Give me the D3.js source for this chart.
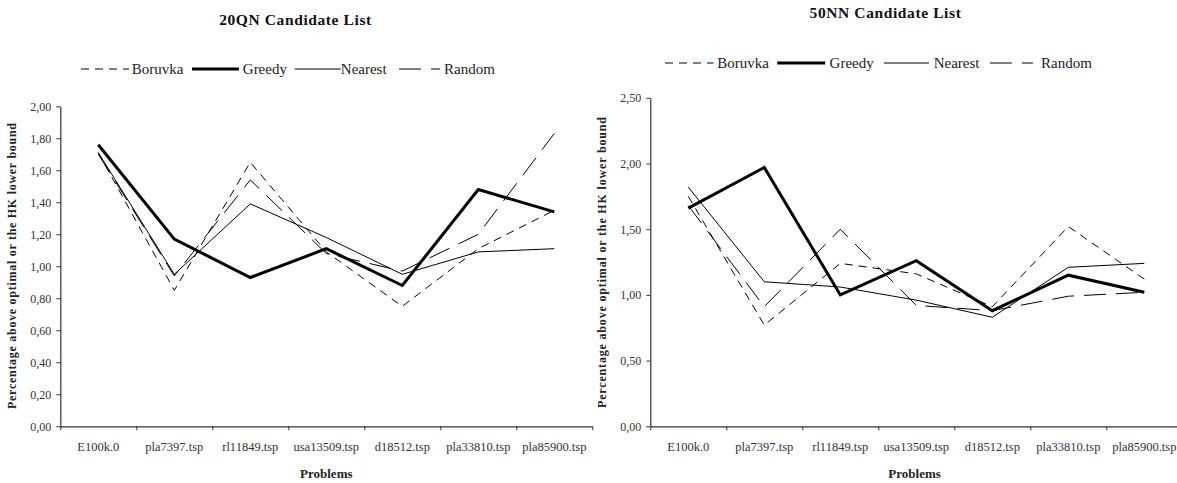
<!DOCTYPE html>
<html>
<head>
<meta charset="utf-8">
<script src="https://cdn.jsdelivr.net/npm/d3@7"></script>
<style>
  html, body { margin: 0; padding: 0; background: #fff; }
  svg { display: block; }
</style>
</head>
<body>
<svg id="chart" width="1177" height="483"></svg>
<script>
const categories = ["E100k.0", "pla7397.tsp", "rl11849.tsp", "usa13509.tsp", "d18512.tsp", "pla33810.tsp", "pla85900.tsp"];
const seriesNames = ["Boruvka", "Greedy", "Nearest", "Random"];

const qn20Boruvka = [1.71, 0.85, 1.65, 1.09, 0.75, 1.11, 1.35];
const qn20Greedy  = [1.76, 1.17, 0.93, 1.11, 0.88, 1.48, 1.34];
const qn20Nearest = [1.71, 0.95, 1.39, 1.18, 0.95, 1.09, 1.11];
const qn20Random  = [1.70, 0.94, 1.54, 1.08, 0.97, 1.20, 1.83];

const nn50Boruvka = [1.75, 0.77, 1.24, 1.16, 0.91, 1.52, 1.12];
const nn50Greedy  = [1.66, 1.97, 1.00, 1.26, 0.88, 1.15, 1.02];
const nn50Nearest = [1.82, 1.10, 1.06, 0.96, 0.83, 1.21, 1.24];
const nn50Random  = [1.68, 0.91, 1.50, 0.92, 0.88, 0.99, 1.02];

const yTicks20 = [0, 0.2, 0.4, 0.6, 0.8, 1.0, 1.2, 1.4, 1.6, 1.8, 2.0];
const yTicks50 = [0, 0.5, 1.0, 1.5, 2.0, 2.5];

const titles = ["20QN Candidate List", "50NN Candidate List"];
const xTitle = "Problems";
const yTitle = "Percentage above optimal or the HK lower bound";

const styles = {
  Boruvka: { width: 1, dash: "8,6" },
  Greedy:  { width: 3, dash: null },
  Nearest: { width: 1, dash: null },
  Random:  { width: 1, dash: "22,10" }
};

const serif = "'Liberation Serif', 'Times New Roman', serif";
const svg = d3.select("#chart");

function drawChart(cfg) {
  const g = svg.append("g").attr("transform", `translate(${cfg.ox},0)`);
  const x0 = 60.3, bandW = 76, yBottom = 426.3;
  const x = d3.scaleBand().domain(categories).range([x0, x0 + bandW * categories.length]).padding(0);
  const xEdge = d3.scaleLinear().domain([0, categories.length]).range([x0, x0 + bandW * categories.length]);
  const y = d3.scaleLinear().domain([0, cfg.yMax]).range([yBottom, cfg.yTop]);

  // title
  g.append("text")
    .attr("x", 295.5).attr("y", cfg.titleY)
    .attr("text-anchor", "middle")
    .attr("font-family", serif).attr("font-weight", "bold")
    .attr("font-size", 15.5).attr("letter-spacing", 0.6)
    .attr("fill", "#111")
    .text(cfg.title);

  // legend
  const lg = g.append("g");
  cfg.legendX.forEach((lx, i) => {
    const name = seriesNames[i];
    const st = styles[name];
    lg.append("line")
      .attr("x1", lx).attr("x2", lx + cfg.legendLen[i])
      .attr("y1", cfg.legendY).attr("y2", cfg.legendY)
      .attr("stroke", "#000").attr("stroke-width", st.width)
      .attr("stroke-dasharray", st.dash);
    lg.append("text")
      .attr("x", cfg.legendTextX[i]).attr("y", cfg.legendY + 4.5)
      .attr("font-family", serif).attr("font-size", 15)
      .attr("fill", "#222")
      .text(name);
  });

  // y axis
  const yAxis = d3.axisLeft(y)
    .tickValues(cfg.yTicks)
    .tickFormat(d => d.toFixed(2).replace(".", ","))
    .tickSize(4).tickSizeOuter(0).tickPadding(5);
  const ya = g.append("g").attr("transform", `translate(${x0},0)`).call(yAxis);
  ya.select(".domain").attr("stroke", "#333").attr("stroke-width", 1.2);
  ya.selectAll(".tick line").attr("stroke", "#333");
  ya.selectAll(".tick text").attr("font-family", serif).attr("font-size", 12).attr("fill", "#333");

  // x axis: boundary ticks
  const xEdgeAxis = d3.axisBottom(xEdge)
    .tickValues(d3.range(0, categories.length + 1))
    .tickFormat("").tickSize(4).tickSizeOuter(0);
  const xe = g.append("g").attr("transform", `translate(0,${yBottom})`).call(xEdgeAxis);
  xe.select(".domain").attr("stroke", "#333").attr("stroke-width", 1.2);
  xe.selectAll(".tick line").attr("stroke", "#333");

  // x axis labels
  const xLabelAxis = d3.axisBottom(x).tickSize(0).tickPadding(16);
  const xl = g.append("g").attr("transform", `translate(0,${yBottom})`).call(xLabelAxis);
  xl.select(".domain").remove();
  xl.selectAll(".tick text").attr("font-family", serif).attr("font-size", 12.5).attr("fill", "#333");

  // axis titles
  g.append("text")
    .attr("x", cfg.xTitleX).attr("y", 477.5)
    .attr("text-anchor", "middle")
    .attr("font-family", serif).attr("font-weight", "bold")
    .attr("font-size", 13).attr("fill", "#222")
    .text(xTitle);

  g.append("text")
    .attr("transform", `translate(${cfg.yTitleX},${cfg.yTitleY}) rotate(-90)`)
    .attr("text-anchor", "middle")
    .attr("font-family", serif).attr("font-weight", "bold")
    .attr("font-size", 12).attr("fill", "#222")
    .attr("textLength", cfg.yTitleLen).attr("lengthAdjust", "spacing")
    .text(yTitle);

  // lines
  const line = d3.line()
    .x((d, i) => x(categories[i]) + x.bandwidth() / 2)
    .y(d => y(d));
  const order = ["Boruvka", "Random", "Nearest", "Greedy"];
  order.forEach(name => {
    const st = styles[name];
    g.append("path")
      .datum(cfg.series[name])
      .attr("fill", "none")
      .attr("stroke", "#000")
      .attr("stroke-width", st.width)
      .attr("stroke-linejoin", "miter")
      .attr("stroke-dasharray", st.dash)
      .attr("d", line);
  });
}

drawChart({
  ox: 0,
  title: titles[0], titleY: 25,
  yMax: 2.0, yTop: 106.3, yTicks: yTicks20,
  legendY: 69,
  legendX: [81, 192, 294.7, 399],
  legendLen: [48, 47, 46, 41],
  legendTextX: [131.7, 242.8, 340.8, 444],
  xTitleX: 326.3,
  yTitleX: 15.5, yTitleY: 266, yTitleLen: 286,
  series: { Boruvka: qn20Boruvka, Greedy: qn20Greedy, Nearest: qn20Nearest, Random: qn20Random }
});

drawChart({
  ox: 590,
  title: titles[1], titleY: 18,
  yMax: 2.5, yTop: 97.8, yTicks: yTicks50,
  legendY: 63,
  legendX: [75, 187.2, 293.9, 399.9],
  legendLen: [48.5, 48, 45, 43],
  legendTextX: [127.3, 239.6, 343.7, 451],
  xTitleX: 324.6,
  yTitleX: 15.5, yTitleY: 262.5, yTitleLen: 291,
  series: { Boruvka: nn50Boruvka, Greedy: nn50Greedy, Nearest: nn50Nearest, Random: nn50Random }
});
</script>
</body>
</html>
